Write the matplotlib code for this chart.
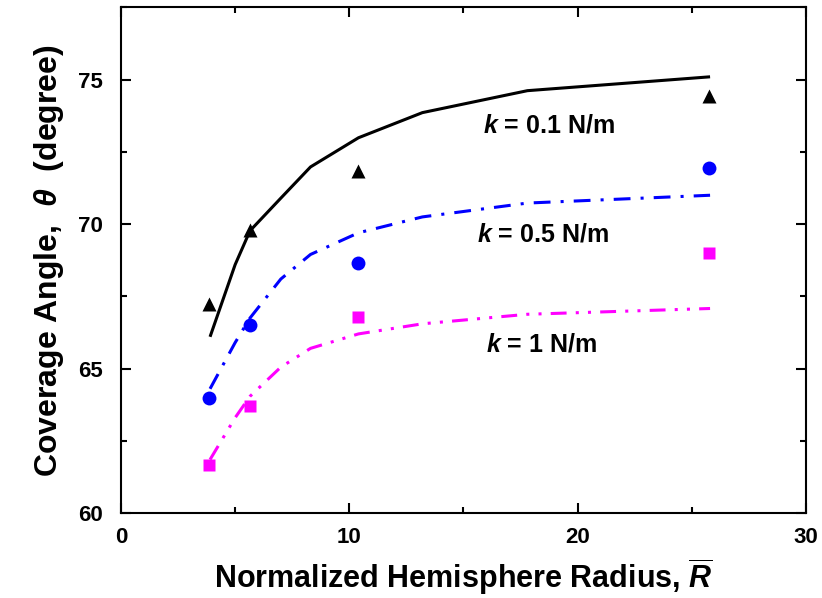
import matplotlib
matplotlib.use("Agg")
import matplotlib.pyplot as plt
from matplotlib.ticker import MultipleLocator

plt.rcParams["font.family"] = "Liberation Sans"
plt.rcParams["font.weight"] = "bold"
plt.rcParams["axes.labelweight"] = "bold"
plt.rcParams["mathtext.fontset"] = "custom"
plt.rcParams["mathtext.rm"] = "Liberation Sans:bold"
plt.rcParams["mathtext.it"] = "Liberation Sans:italic:bold"
plt.rcParams["mathtext.bf"] = "Liberation Sans:bold"

#simulation points (markers)
r_points = [3.85, 5.65, 10.38, 25.76]
theta_k01 = [67.25, 69.8, 71.85, 74.45]
theta_k05 = [63.98, 66.5, 68.66, 71.93]
theta_k1 = [61.65, 63.72, 66.8, 69.0]

#model curves (lines)
r_curve = [3.9, 5.0, 5.65, 7.0, 8.3, 10.4, 13.2, 17.8, 25.8]
curve_k01 = [66.1, 68.6, 69.77, 70.9, 71.98, 72.99, 73.86, 74.62, 75.1]
curve_k05 = [64.3, 65.9, 66.75, 68.1, 68.95, 69.7, 70.25, 70.73, 71.0]
curve_k1 = [61.85, 63.3, 64.04, 65.05, 65.7, 66.2, 66.55, 66.88, 67.08]

labels = ["= 0.1 N/m", "= 0.5 N/m", "= 1 N/m"]
label_pos = [(18.75, 73.4), (18.5, 69.63), (18.4, 65.82)]

fig = plt.figure(figsize=(8.22, 5.98), dpi=100)
ax = fig.add_axes([0.1472, 0.1421, 0.8333, 0.8454])

lw = 2.2
ax.plot(r_curve, curve_k01, color="black", lw=lw, solid_capstyle="butt")
ax.plot(r_curve, curve_k05, color="#0000ff", lw=lw, dashes=(5.5, 3.3, 1, 3.3))
ax.plot(r_curve, curve_k1, color="#ff00ff", lw=lw, dashes=(5.2, 3, 1, 3, 1, 3))

ax.plot(r_points, theta_k01, "^", color="black", ms=10, mec="none")
ax.plot(r_points, theta_k05, "o", color="#0000ff", ms=10, mec="none")
ax.plot(r_points, theta_k1, "s", color="#ff00ff", ms=9, mec="none")

for lab, (x, y) in zip(labels, label_pos):
    ax.text(x, y, r"$\mathit{k}$ " + lab, fontsize=18, fontweight="bold",
            ha="center", va="center")

ax.set_xlim(0, 30)
ax.set_ylim(60, 77.5)
ax.xaxis.set_major_locator(MultipleLocator(10))
ax.xaxis.set_minor_locator(MultipleLocator(5))
ax.yaxis.set_major_locator(MultipleLocator(5))
ax.yaxis.set_minor_locator(MultipleLocator(2.5))

ax.tick_params(which="both", direction="in", top=True, right=True, width=1.5)
ax.tick_params(which="major", length=7, labelsize=16)
ax.tick_params(which="minor", length=4)
ax.tick_params(axis="x", which="major", pad=10)
ax.tick_params(axis="y", which="major", pad=13)
for sp in ax.spines.values():
    sp.set_linewidth(1.5)

ax.set_xlabel(r"Normalized Hemisphere Radius, $\overline{\mathit{R}}$",
              fontsize=22, fontweight="bold", labelpad=6)
ax.set_ylabel(r"Coverage Angle,  $\mathit{\theta}$  (degree)",
              fontsize=23, fontweight="bold", labelpad=9)

fig.savefig("out.png", dpi=100)
